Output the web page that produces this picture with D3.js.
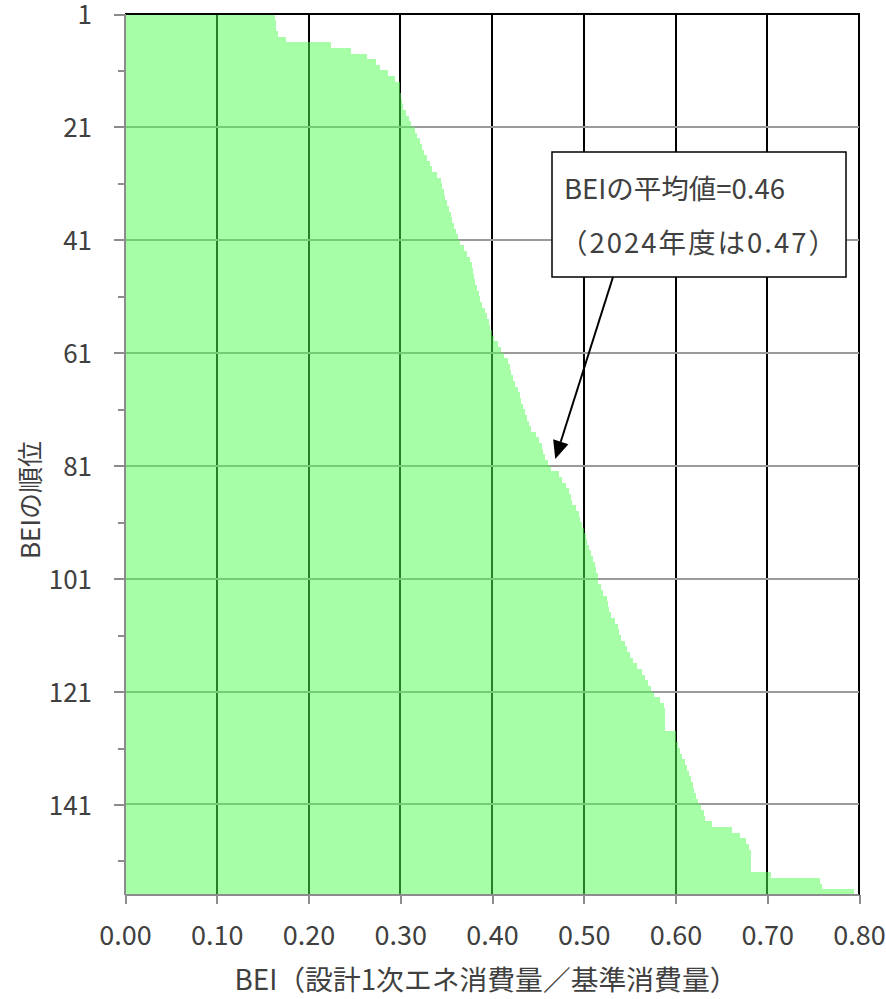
<!DOCTYPE html>
<html><head><meta charset="utf-8">
<script src="https://cdn.jsdelivr.net/npm/d3@7"></script>
<style>
html,body{margin:0;padding:0;background:#fff;}
svg{display:block;}
text{font-family:"Noto Sans CJK JP","Noto Sans",sans-serif;fill:#404040;}
</style></head>
<body>
<svg id="chart" width="886" height="999"></svg>
<script>
// BEI value of each building, sorted ascending (rank 1 = smallest BEI)
const bei = [
0.163,0.165,0.165,0.167,0.175,0.225,0.246,0.264,0.274,0.278,
0.287,0.294,0.300,0.300,0.301,0.302,0.303,0.306,0.309,0.312,
0.316,0.318,0.321,0.324,0.326,0.329,0.332,0.335,0.340,0.344,
0.345,0.348,0.349,0.351,0.353,0.355,0.356,0.359,0.361,0.363,
0.365,0.369,0.373,0.376,0.378,0.379,0.380,0.382,0.384,0.386,
0.387,0.389,0.392,0.395,0.397,0.398,0.400,0.402,0.406,0.410,
0.413,0.417,0.420,0.421,0.423,0.425,0.428,0.430,0.432,0.434,
0.436,0.438,0.440,0.443,0.448,0.451,0.454,0.456,0.458,0.461,
0.464,0.473,0.476,0.481,0.484,0.486,0.487,0.492,0.495,0.496,
0.498,0.500,0.502,0.504,0.506,0.508,0.510,0.512,0.513,0.515,
0.516,0.519,0.521,0.525,0.526,0.528,0.530,0.534,0.537,0.538,
0.541,0.545,0.547,0.550,0.554,0.558,0.563,0.567,0.570,0.573,
0.577,0.583,0.588,0.589,0.589,0.589,0.589,0.600,0.601,0.603,
0.605,0.607,0.610,0.613,0.615,0.617,0.619,0.620,0.622,0.625,
0.628,0.631,0.632,0.640,0.662,0.670,0.677,0.680,0.682,0.682,
0.682,0.682,0.704,0.757,0.760,0.795
];
const ranks = bei.map((d, i) => i + 1);
const yTickLabels = [1, 21, 41, 61, 81, 101, 121, 141];
const yMinorTicks = [11, 31, 51, 71, 91, 111, 131, 151];
const xTickLabels = [0, 0.1, 0.2, 0.3, 0.4, 0.5, 0.6, 0.7, 0.8];
const xTitle = "BEI（設計1次エネ消費量／基準消費量）";
const yTitle = "BEIの順位";
const meanBEI = 0.46;
const meanText = "BEIの平均値=" + meanBEI.toFixed(2);
const prevText = "（2024年度は0.47）";
const arrowTip = {bei: 0.469, rank: 79.8};

const svg = d3.select("#chart");
const L = 125, R = 859, T = 14, B = 894.8;
const x = d3.scaleLinear().domain([0, 0.8]).range([L, R]);
const y = d3.scaleLinear().domain([1, ranks.length + 1]).range([T, B]);

// gridlines
const grid = svg.append("g").attr("shape-rendering", "crispEdges");
grid.selectAll("line.v").data(xTickLabels.filter(d => d > 0)).join("line")
  .attr("x1", d => x(d)).attr("x2", d => x(d)).attr("y1", T).attr("y2", B)
  .attr("stroke", "#000").attr("stroke-width", 2);
grid.selectAll("line.h").data(yTickLabels.filter(d => d > 1)).join("line")
  .attr("x1", L).attr("x2", R).attr("y1", d => y(d)).attr("y2", d => y(d))
  .attr("stroke", "#9a9a9a").attr("stroke-width", 2);

// bars
svg.append("g").attr("shape-rendering", "crispEdges")
  .selectAll("rect").data(bei).join("rect")
  .attr("x", x(0))
  .attr("y", (d, i) => y(ranks[i]))
  .attr("width", d => x(d) - x(0))
  .attr("height", (d, i) => y(ranks[i] + 1) - y(ranks[i]))
  .attr("fill", "rgb(77,255,77)").attr("fill-opacity", 0.5);

// top border
svg.append("line").attr("x1", L).attr("x2", R + 1).attr("y1", T).attr("y2", T)
  .attr("stroke", "#000").attr("stroke-width", 2).attr("shape-rendering", "crispEdges");

// y axis
const yAxis = svg.append("g").attr("transform", `translate(${L},0)`)
  .call(d3.axisLeft(y).tickValues(yTickLabels).tickSize(11).tickPadding(22).tickFormat(d3.format("d")));
const yMinor = svg.append("g").attr("transform", `translate(${L},0)`)
  .call(d3.axisLeft(y).tickValues(yMinorTicks).tickSize(7).tickFormat(""));
// x axis
const xAxis = svg.append("g").attr("transform", `translate(0,${B})`)
  .call(d3.axisBottom(x).tickValues(xTickLabels).tickSize(9).tickPadding(22).tickFormat(d3.format(".2f")));

[yAxis, yMinor, xAxis].forEach(g => {
  g.select(".domain").attr("stroke", "#8c8c8c").attr("stroke-width", 2);
  g.selectAll(".tick line").attr("stroke", "#8c8c8c").attr("stroke-width", 2);
  g.selectAll("text").attr("font-size", 26).attr("fill", "#404040")
    .attr("font-family", '"Noto Sans CJK JP","Noto Sans",sans-serif');
  g.attr("shape-rendering", "crispEdges");
});
xAxis.selectAll("text").attr("font-size", 27);
yAxis.selectAll("text").attr("dy", "0.38em");
yAxis.select(".domain").attr("d", `M0,${T}V${B}`);
yMinor.select(".domain").remove();
xAxis.select(".domain").attr("d", `M${L},0H${R}`);

// axis titles
svg.append("text").attr("x", 486).attr("y", 978)
  .attr("text-anchor", "middle").attr("dominant-baseline", "central")
  .attr("font-size", 27.8).text(xTitle);
svg.append("text").attr("transform", `translate(28,500) rotate(-90)`)
  .attr("text-anchor", "middle").attr("dominant-baseline", "central")
  .attr("font-size", 26).text(yTitle);

// annotation
const box = {x: 552, y: 152, w: 294, h: 125};
const ann = svg.append("g");
ann.append("rect").attr("x", box.x).attr("y", box.y).attr("width", box.w).attr("height", box.h)
  .attr("fill", "#fff").attr("stroke", "#000").attr("stroke-width", 1.5);
ann.append("text").attr("x", box.x + 12).attr("y", box.y + 35)
  .attr("dominant-baseline", "central").attr("font-size", 27.5).attr("fill", "#000").text(meanText);
ann.append("text").attr("x", box.x + 8).attr("y", box.y + 89)
  .attr("dominant-baseline", "central").attr("font-size", 27.5).attr("fill", "#000")
  .attr("textLength", 276).attr("lengthAdjust", "spacing").text(prevText);

// arrow
const tx = x(arrowTip.bei), ty = y(arrowTip.rank);
const sx = 613, sy = box.y + box.h;
const ang = Math.atan2(ty - sy, tx - sx);
const headL = 18, headW = 8;
const bx = tx - headL * Math.cos(ang), by = ty - headL * Math.sin(ang);
ann.append("line").attr("x1", sx).attr("y1", sy).attr("x2", bx).attr("y2", by)
  .attr("stroke", "#000").attr("stroke-width", 2);
ann.append("path")
  .attr("d", `M${tx},${ty}L${bx + headW * Math.sin(ang)},${by - headW * Math.cos(ang)}L${bx - headW * Math.sin(ang)},${by + headW * Math.cos(ang)}Z`)
  .attr("fill", "#000");
</script>
</body></html>
